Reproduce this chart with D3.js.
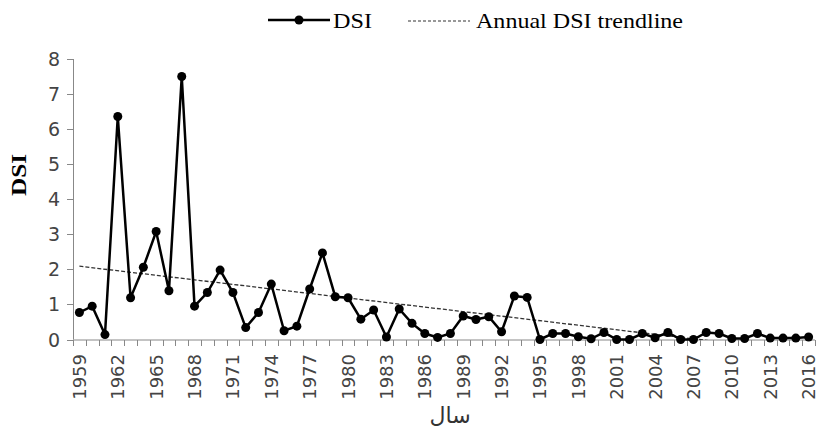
<!DOCTYPE html>
<html>
<head>
<meta charset="utf-8">
<script src="https://cdn.jsdelivr.net/npm/d3@7"></script>
<style>
body { margin: 0; background: #fff; }
</style>
</head>
<body>
<div id="chart"></div>
<script>
var w = 819,
	h = 431;

var years = d3.range(1959, 2017);
var dsi = [0.77, 0.95, 0.14, 6.36, 1.19, 2.06, 3.08, 1.39, 7.5, 0.95,
	1.34, 1.98, 1.34, 0.34, 0.77, 1.58, 0.25, 0.38, 1.44, 2.47,
	1.22, 1.19, 0.58, 0.84, 0.07, 0.87, 0.46, 0.17, 0.06, 0.17,
	0.67, 0.57, 0.65, 0.22, 1.24, 1.2, 0.0, 0.17, 0.17, 0.08,
	0.02, 0.2, 0.0, 0.0, 0.17, 0.05, 0.2, 0.0, 0.0, 0.2,
	0.17, 0.03, 0.03, 0.17, 0.04, 0.04, 0.04, 0.07];
// trendline end points
var trendYears = [1959, 2016];
var trendValues = [2.09, -0.37];
var yTicks = [0, 1, 2, 3, 4, 5, 6, 7, 8];
var labelYears = years.filter(function(d) { return (d - 1959) % 3 == 0 });

var svg = d3.select('#chart').append('svg')
	.attr('width', w)
	.attr('height', h);

var x = d3.scaleBand().domain(years).range([73, 815]);
var y = d3.scaleLinear().domain([0, 8]).range([339.5, 59]);

function cx(d) { return x(d) + x.bandwidth() / 2 }

svg.append('clipPath').attr('id', 'plot')
	.append('rect').attr('x', 73).attr('y', 59).attr('width', 742).attr('height', 281);

// y axis
svg.append('line')
	.attr('x1', 73.5).attr('x2', 73.5)
	.attr('y1', y(8)).attr('y2', y(0))
	.style('stroke', '#888');
svg.selectAll('.ytick')
	.data(yTicks)
	.enter().append('line')
	.attr('x1', 67).attr('x2', 73.5)
	.attr('y1', function(d) { return Math.round(y(d)) + 0.5 })
	.attr('y2', function(d) { return Math.round(y(d)) + 0.5 })
	.style('stroke', '#888');
svg.selectAll('.ylab')
	.data(yTicks)
	.enter().append('text')
	.attr('x', 60)
	.attr('y', function(d) { return y(d) + 7 })
	.attr('text-anchor', 'end')
	.style('font', '19px "DejaVu Sans"')
	.style('fill', '#444')
	.text(function(d) { return d });

// x axis
svg.append('line')
	.attr('x1', 73).attr('x2', 815)
	.attr('y1', 340).attr('y2', 340)
	.style('stroke', '#888');
svg.selectAll('.xtick')
	.data(years.concat([2017]))
	.enter().append('line')
	.attr('x1', function(d, i) { return Math.round(73 + i * x.step()) + 0.5 })
	.attr('x2', function(d, i) { return Math.round(73 + i * x.step()) + 0.5 })
	.attr('y1', 340).attr('y2', 346)
	.style('stroke', '#888');
svg.selectAll('.xlab')
	.data(labelYears)
	.enter().append('text')
	.attr('transform', function(d) { return 'translate(' + (cx(d) + 6.5) + ',354) rotate(-90)' })
	.attr('text-anchor', 'end')
	.style('font', '18px "DejaVu Sans"')
	.style('fill', '#444')
	.text(function(d) { return d });

// titles
svg.append('text')
	.attr('transform', 'translate(26,175) rotate(-90)')
	.attr('text-anchor', 'middle')
	.attr('textLength', 42)
	.attr('lengthAdjust', 'spacingAndGlyphs')
	.style('font', 'bold 22px "Liberation Serif"')
	.text('DSI');
svg.append('text')
	.attr('x', 450).attr('y', 423)
	.attr('text-anchor', 'middle')
	.style('font', '22px "DejaVu Sans"')
	.style('fill', '#333')
	.text('سال');

// trendline
svg.append('line')
	.attr('clip-path', 'url(#plot)')
	.attr('x1', cx(trendYears[0])).attr('y1', y(trendValues[0]))
	.attr('x2', cx(trendYears[1])).attr('y2', y(trendValues[1]))
	.style('stroke', '#333')
	.style('stroke-width', 1.3)
	.style('stroke-dasharray', '4,2');

// DSI series
var line = d3.line()
	.x(function(d, i) { return cx(years[i]) })
	.y(function(d) { return y(d) });
svg.append('path')
	.datum(dsi)
	.attr('d', line)
	.style('fill', 'none')
	.style('stroke', '#000')
	.style('stroke-width', 2.5);
svg.selectAll('.dot')
	.data(dsi)
	.enter().append('circle')
	.attr('cx', function(d, i) { return cx(years[i]) })
	.attr('cy', function(d) { return y(d) })
	.attr('r', 4.5)
	.style('fill', '#000');

// legend
svg.append('line')
	.attr('x1', 268).attr('x2', 330).attr('y1', 20).attr('y2', 20)
	.style('stroke', '#000').style('stroke-width', 2.5);
svg.append('circle').attr('cx', 299).attr('cy', 20).attr('r', 4.5);
svg.append('text')
	.attr('x', 333).attr('y', 28)
	.attr('textLength', 39)
	.attr('lengthAdjust', 'spacingAndGlyphs')
	.style('font', '22px "Liberation Serif"')
	.text('DSI');
svg.append('line')
	.attr('x1', 408).attr('x2', 470).attr('y1', 21).attr('y2', 21)
	.style('stroke', '#333').style('stroke-width', 1.2)
	.style('stroke-dasharray', '3,2');
svg.append('text')
	.attr('x', 476).attr('y', 28)
	.attr('textLength', 207)
	.attr('lengthAdjust', 'spacingAndGlyphs')
	.style('font', '22px "Liberation Serif"')
	.text('Annual DSI trendline');
</script>
</body>
</html>
